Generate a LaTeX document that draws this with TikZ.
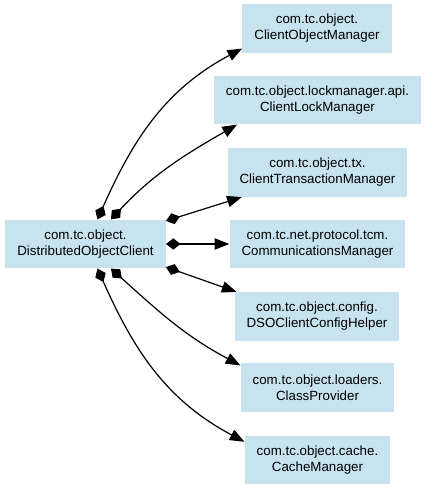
\documentclass[tikz,border=0pt]{standalone}
\usepackage{fontspec}
\setmainfont{Liberation Sans}
\usetikzlibrary{arrows.meta}
\definecolor{clsblue}{RGB}{198,227,239}

\begin{document}
\begin{tikzpicture}[x = 0.75pt, y = 0.75pt,
    cls/.style = {fill = clsblue, align = center, inner xsep = 9pt, inner ysep = 0pt,
      minimum height = 36.5pt, font = \fontsize{10}{12}\selectfont},
    dep/.style = {line width = 0.9pt,
      {Diamond[length = 11pt, width = 8.5pt]}-{Triangle[length = 11pt, width = 8.5pt]}}]
    \useasboundingbox (0,0) rectangle (427,491);

    \node [cls] (client) at (85.5,247) {com.tc.object.\\DistributedObjectClient};

    \node [cls] (objmgr) at (317,462.5) {com.tc.object.\\ClientObjectManager};
    \node [cls] (lockmgr) at (317.5,391) {com.tc.object.lockmanager.api.\\ClientLockManager};
    \node [cls] (txmgr) at (317.5,318.5) {com.tc.object.tx.\\ClientTransactionManager};
    \node [cls] (commsmgr) at (317.5,247) {com.tc.net.protocol.tcm.\\CommunicationsManager};
    \node [cls] (confighelper) at (317,174.5) {com.tc.object.config.\\DSOClientConfigHelper};
    \node [cls] (classprov) at (317.5,103.5) {com.tc.object.loaders.\\ClassProvider};
    \node [cls] (cachemgr) at (317.5,31) {com.tc.object.cache.\\CacheManager};

    \draw [dep] (client.64) to [out = 66, in = 208] (objmgr.195);
    \draw [dep] (client.44) to [out = 47, in = 210] (lockmgr.197);
    \draw [dep] (client.16) -- (txmgr.198);
    \draw [dep] (client.east) -- (commsmgr.west);
    \draw [dep] (client.-16) -- (confighelper.163);
    \draw [dep] (client.-44) to [out = -42, in = 152] (classprov.164);
    \draw [dep] (client.-64) to [out = -66, in = 152] (cachemgr.166);
\end{tikzpicture}
\end{document}
